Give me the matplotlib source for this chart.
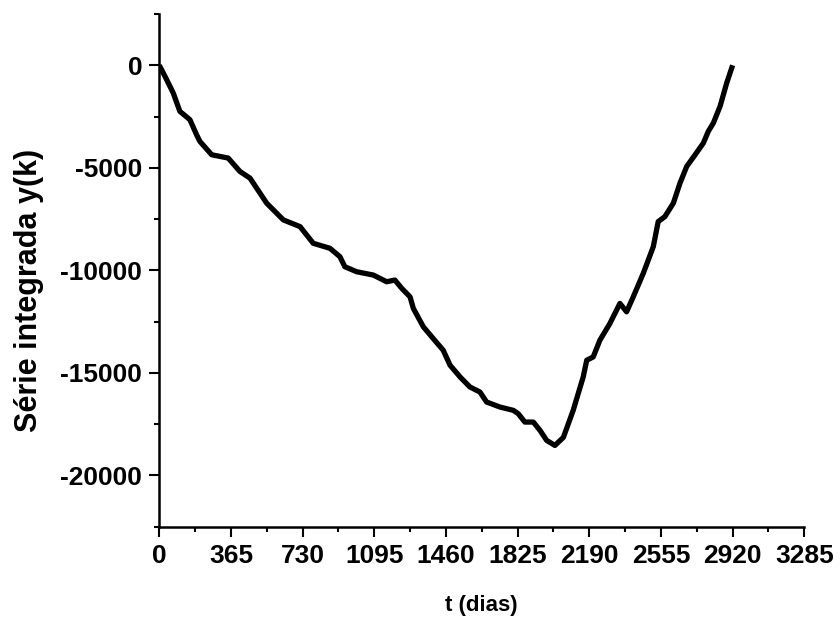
import matplotlib
matplotlib.use("Agg")
import matplotlib.pyplot as plt
from matplotlib.ticker import MultipleLocator

plt.rcParams['font.family'] = ['Liberation Sans', 'DejaVu Sans']
plt.rcParams['font.weight'] = 'bold'
plt.rcParams['axes.unicode_minus'] = False

# Integrated series y(k) over time (days)
t_dias = [0, 29, 71, 105, 156, 190, 207, 267, 351, 411, 462, 547, 632, 717,
          784, 869, 920, 945, 1005, 1090, 1158, 1200, 1235, 1277, 1294, 1345,
          1395, 1446, 1481, 1532, 1582, 1633, 1667, 1735, 1803, 1828, 1862,
          1905, 1939, 1973, 2015, 2058, 2108, 2159, 2177, 2210, 2244, 2295,
          2346, 2380, 2414, 2465, 2516, 2541, 2575, 2618, 2652, 2686, 2729,
          2771, 2796, 2822, 2856, 2890, 2920]
y_k = [0, -538, -1349, -2248, -2654, -3387, -3714, -4364, -4525, -5180, -5503,
       -6725, -7541, -7868, -8680, -8924, -9334, -9823, -10067, -10229, -10556,
       -10473, -10879, -11289, -11856, -12755, -13322, -13894, -14627, -15199,
       -15687, -15932, -16420, -16665, -16826, -16987, -17398, -17398, -17803,
       -18292, -18537, -18145, -16826, -15199, -14383, -14221, -13405, -12589,
       -11612, -12022, -11289, -10145, -8845, -7624, -7379, -6725, -5747,
       -4936, -4364, -3792, -3225, -2815, -2004, -860, 0]

x_ticks = [0, 365, 730, 1095, 1460, 1825, 2190, 2555, 2920, 3285]
y_ticks = [0, -5000, -10000, -15000, -20000]

fig = plt.figure(figsize=(8.4, 6.19), dpi=100)
ax = fig.add_axes([0.1896, 0.1491, 0.9575 - 0.1896, 0.9774 - 0.1491])

ax.plot(t_dias, y_k, color='black', lw=3.8, solid_joinstyle='round',
        solid_capstyle='butt')

ax.set_xlim(0, 3285)
ax.set_ylim(-22500, 2500)
ax.set_xticks(x_ticks)
ax.set_yticks(y_ticks)
ax.xaxis.set_minor_locator(MultipleLocator(182.5))
ax.yaxis.set_minor_locator(MultipleLocator(2500))

for side in ('top', 'right'):
    ax.spines[side].set_visible(False)
for side in ('left', 'bottom'):
    ax.spines[side].set_linewidth(1.8)

ax.tick_params(which='major', direction='out', length=7.2, width=1.5,
               labelsize=19, pad=5)
ax.tick_params(which='minor', direction='out', length=3.6, width=1.5)
for lbl in ax.get_xticklabels() + ax.get_yticklabels():
    lbl.set_fontweight('bold')

ax.set_xlabel('t (dias)', fontsize=16, fontweight='bold')
ax.set_ylabel('Série integrada y(k)', fontsize=22, fontweight='bold')
ax.xaxis.set_label_coords(0.5, -0.133)
ax.yaxis.set_label_coords(-0.179, 0.46)

fig.savefig('out.png', dpi=100, facecolor='white')
